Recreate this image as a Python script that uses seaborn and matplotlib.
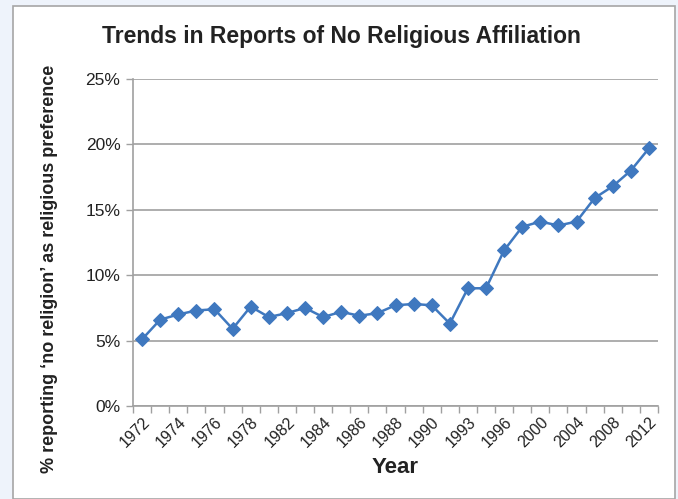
import numpy as np
import pandas as pd
import matplotlib.pyplot as plt
import seaborn as sns
from matplotlib.patches import Rectangle
from matplotlib.ticker import FuncFormatter

# data
years = ['1972', '1973', '1974', '1975', '1976', '1977', '1978', '1980', '1982', '1983',
         '1984', '1985', '1986', '1987', '1988', '1989', '1990', '1991', '1993', '1994',
         '1996', '1998', '2000', '2002', '2004', '2006', '2008', '2010', '2012']
pct_none = [5.1, 6.6, 7.0, 7.3, 7.4, 5.9, 7.6, 6.8, 7.1, 7.5,
            6.8, 7.2, 6.9, 7.1, 7.7, 7.8, 7.7, 6.3, 9.0, 9.0,
            11.9, 13.7, 14.1, 13.8, 14.1, 15.9, 16.8, 18.0, 19.7]
y_ticks = [0, 5, 10, 15, 20, 25]

df = pd.DataFrame({'year': years, 'pct': pct_none})
df['pos'] = np.arange(len(df))

sns.set_style('white')
plt.rcParams['font.family'] = ['Liberation Sans', 'DejaVu Sans']

W, H = 678, 499
fig = plt.figure(figsize=(W / 100, H / 100), dpi=100)
fig.patch.set_facecolor('#eef3fb')

# white panel with grey border (behind the axes)
panel = Rectangle((13 / W, 0), (675 - 13) / W, (H - 6) / H, transform=fig.transFigure,
                  facecolor='white', edgecolor='#a6a6a6', linewidth=1.2, zorder=-10)
fig.patches.append(panel)

ax = fig.add_axes([133 / W, 1 - 406 / H, (658 - 133) / W, (406 - 79) / H])
ax.set_facecolor('none')

sns.lineplot(data=df, x='pos', y='pct', marker='D', color='#3f78bf', linewidth=1.8,
             markersize=7, markeredgecolor='#3f78bf', ax=ax)

n = len(years)
ax.set_xlim(-0.5, n - 0.5)
ax.set_ylim(0, 25)
ax.set_yticks(y_ticks)
ax.yaxis.set_major_formatter(FuncFormatter(lambda v, p: f'{int(v)}%'))
ax.grid(axis='y', color='#a0a0a0', linewidth=1.2)
ax.grid(axis='x', visible=False)
ax.set_axisbelow(True)

# labels on every other category, tick marks on category boundaries
ax.set_xticks(df['pos'][::2])
ax.set_xticklabels(df['year'][::2], rotation=45, ha='right', rotation_mode='anchor',
                   fontsize=11.5, color='#222222')
ax.set_xticks(np.arange(-0.5, n, 1), minor=True)
ax.tick_params(axis='x', which='major', length=0, pad=6)
ax.tick_params(axis='x', which='minor', length=5, width=1, color='#a0a0a0', direction='out',
               bottom=True)
ax.tick_params(axis='y', length=5, width=1, color='#a0a0a0', direction='out', left=True,
               labelsize=12.5, labelcolor='#222222', pad=4)

for s in ['top', 'right']:
    ax.spines[s].set_visible(False)
for s in ['left', 'bottom']:
    ax.spines[s].set_color('#a0a0a0')
    ax.spines[s].set_linewidth(1.2)

ax.set_xlabel('Year', fontsize=16, fontweight='bold', color='#222222', labelpad=6)
ax.set_ylabel('% reporting \u2018no religion\u2019 as religious preference', fontsize=13,
              fontweight='bold', color='#222222', labelpad=0)
ax.yaxis.set_label_coords(-75 / (658 - 133), 0.42)
ax.xaxis.set_label_coords(0.5, -(457 - 406) / (406 - 79))

fig.text(341 / W, 1 - 36 / H, 'Trends in Reports of No Religious Affiliation', ha='center',
         va='center', fontsize=16.5, fontweight='bold', color='#222222')

fig.savefig('out.png', dpi=100, facecolor=fig.get_facecolor())
